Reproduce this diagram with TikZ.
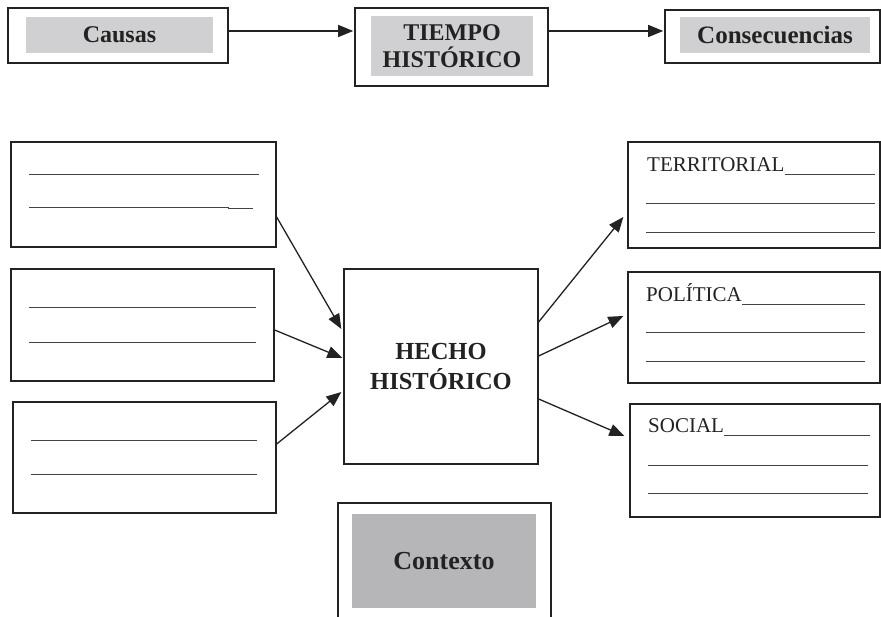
\documentclass[tikz,border=0pt]{standalone}
\usepackage{fontspec}
\setmainfont{Liberation Serif}
\usetikzlibrary{arrows.meta}
\definecolor{ink}{HTML}{222222}
\definecolor{lightgr}{HTML}{D0D0D2}
\definecolor{midgr}{HTML}{B6B6B9}
\tikzset{
  frame/.style={draw=ink, line width=1.6pt, fill=white, inner sep=0pt},
  thinbox/.style={draw=ink, line width=1.3pt, inner sep=0pt},
  graybox/.style={fill=lightgr, inner sep=0pt, text=ink, font=\bfseries\fontsize{24}{27}\selectfont, align=center},
  ctxbox/.style={fill=midgr, inner sep=0pt, text=ink, font=\bfseries\fontsize{26}{29}\selectfont},
  wline/.style={draw=ink!85, line width=0.9pt},
  lab/.style={anchor=base west, inner sep=0pt, text=ink, font=\fontsize{21}{24}\selectfont},
  arr/.style={draw=ink, line width=1.3pt, -{Triangle[length=15pt,width=12pt]}}
}
\begin{document}
\begin{tikzpicture}[x=1pt,y=-1pt]
\clip (0,0) rectangle (881,617);
\fill[white] (0,0) rectangle (881,617);
% top row
\node[frame, minimum width=220pt, minimum height=55pt] (causas) at (118,35.5) {};
\node[graybox, minimum width=187pt, minimum height=36pt] (causasT) at (119.5,35) {Causas};
\node[frame, minimum width=193pt, minimum height=78pt] (tiempo) at (451.5,47) {};
\node[graybox, minimum width=162pt, minimum height=60pt] (tiempoT) at (452,46) {TIEMPO\\HISTÓRICO};
\node[frame, minimum width=215pt, minimum height=53pt] (conse) at (772.5,36.5) {};
\node[graybox, minimum width=190pt, minimum height=36pt, font=\bfseries\fontsize{25}{27}\selectfont] (conseT) at (775,35) {Consecuencias};
\draw[arr] ([yshift=4.5pt]causas.east) -- ([yshift=16pt,xshift=-1pt]tiempo.west);
\draw[arr] ([yshift=16pt]tiempo.east) -- ([yshift=5.5pt,xshift=-1pt]conse.west);
% left boxes
\node[thinbox, minimum width=265pt, minimum height=105pt] (b1) at (143.5,194.5) {};
\node[thinbox, minimum width=263pt, minimum height=112pt] (b2) at (142.5,325) {};
\node[thinbox, minimum width=263pt, minimum height=111pt] (b3) at (144.5,457.5) {};
\draw[wline] (29,174) -- (259,174);
\draw[wline] (29,207) -- (228,207) -- (228,208) -- (253,208);
\draw[wline] (29,307) -- (256,307);
\draw[wline] (29,342) -- (256,342);
\draw[wline] (31,440) -- (257,440);
\draw[wline] (31,474) -- (257,474);
% center
\node[thinbox, minimum width=194pt, minimum height=195pt, text=ink, align=center,
      font=\bfseries\fontsize{24.5}{30}\selectfont] (hecho) at (441,366.5) {HECHO\\HISTÓRICO};
\draw[arr] ([yshift=-22.5pt]b1.east) -- ([yshift=37.5pt,xshift=-2pt]hecho.west);
\draw[arr] ([yshift=-5pt]b2.east) -- ([yshift=8.5pt,xshift=-1pt]hecho.west);
\draw[arr] ([yshift=13.5pt]b3.east) -- ([yshift=-25.5pt,xshift=-2pt]hecho.west);
% right boxes
\node[thinbox, minimum width=252pt, minimum height=106pt] (r1) at (754,195) {};
\node[thinbox, minimum width=252pt, minimum height=111pt] (r2) at (754,327.5) {};
\node[thinbox, minimum width=250pt, minimum height=113pt] (r3) at (755,460.5) {};
\node[lab] (t1) at (647,172) {TERRITORIAL};
\node[lab] (t2) at (646,302) {POLÍTICA};
\node[lab] (t3) at (648,433) {SOCIAL};
\draw[wline] ([yshift=-2pt]t1.base east) -- (875,174);
\draw[wline] (646,203) -- (875,203);
\draw[wline] (646,232) -- (875,232);
\draw[wline] ([yshift=-2pt]t2.base east) -- (865,304);
\draw[wline] (646,332) -- (865,332);
\draw[wline] (646,361) -- (865,361);
\draw[wline] ([yshift=-2pt]t3.base east) -- (870,435);
\draw[wline] (648,465) -- (868,465);
\draw[wline] (648,493) -- (868,493);
\draw[arr] ([yshift=44.5pt]hecho.east) -- ([yshift=-22pt,xshift=-4pt]r1.west);
\draw[arr] ([yshift=10.5pt]hecho.east) -- ([yshift=11.5pt,xshift=-4pt]r2.west);
\draw[arr] ([yshift=-32.5pt]hecho.east) -- ([yshift=24.5pt,xshift=-5pt]r3.west);
% contexto
\node[frame, minimum width=213pt, minimum height=117pt] (ctx) at (444.5,561.5) {};
\node[ctxbox, minimum width=184pt, minimum height=94pt] (ctxT) at (444,561) {Contexto};
\end{tikzpicture}
\end{document}
